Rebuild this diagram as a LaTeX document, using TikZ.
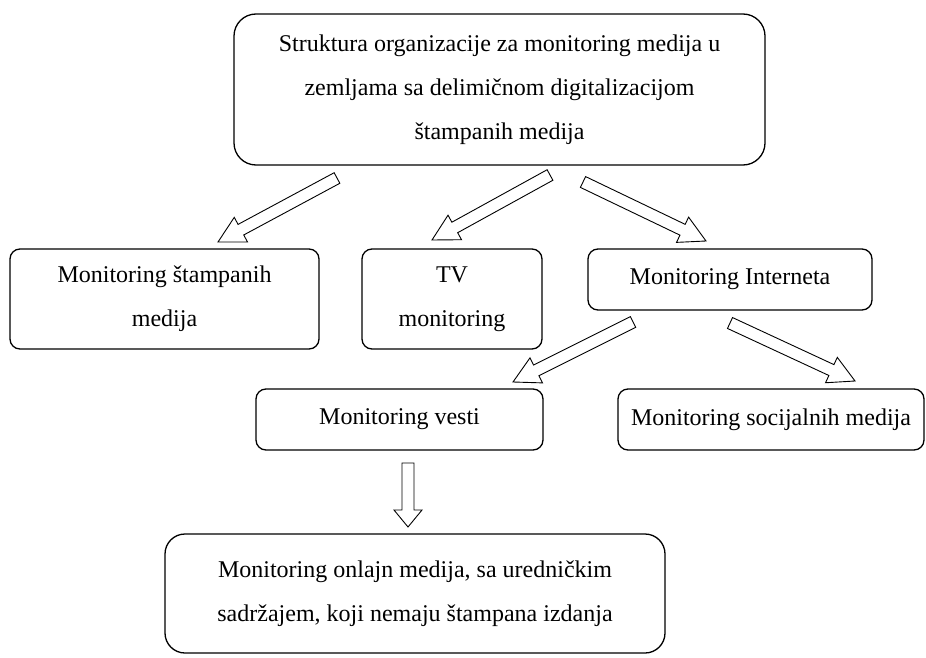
\documentclass[tikz,border=0pt]{standalone}
\usepackage{fontspec}
\setmainfont{Liberation Serif}
\usetikzlibrary{calc}

% hollow block arrow from #1 (tail) to #2 (tip), head length #3
\newcommand{\blockarrow}[3]{%
  \coordinate (h) at ($(#2)!#3!(#1)$);
  \draw[arrowline] ($(#1)!6pt!90:(#2)$) -- ($(h)!6pt!90:(#2)$) -- ($(h)!14pt!90:(#2)$) -- (#2)
    -- ($(h)!14pt!-90:(#2)$) -- ($(h)!6pt!-90:(#2)$) -- ($(#1)!6pt!-90:(#2)$) -- cycle;}

\begin{document}
\begin{tikzpicture}[x=1pt, y=-1pt,
    font={\fontsize{24}{44}\selectfont},
    box/.style={draw, line width=1.3pt, rounded corners=10pt, align=center, inner sep=0pt},
    arrowline/.style={draw, line width=0.9pt, fill=white, line join=miter}]
  \useasboundingbox (0,0) rectangle (926,658);

  \node[box, rounded corners=22pt, minimum width=531pt, minimum height=151pt] (top) at (499.5,89.5)
    {Struktura organizacije za monitoring medija u\\ zemljama sa delimičnom digitalizacijom\\ štampanih medija};
  \node[box, minimum width=309pt, minimum height=100pt] (stamp) at (164.5,299) {Monitoring štampanih\\ medija};
  \node[box, minimum width=180pt, minimum height=100pt] (tv) at (452,299) {TV\\ monitoring};
  \node[box, minimum width=284pt, minimum height=61pt] (inet) at (730,279.5) {Monitoring Interneta};
  \node[box, minimum width=287pt, minimum height=61pt] (vesti) at (399.5,419.5) {Monitoring vesti};
  \node[box, minimum width=306pt, minimum height=61pt] (soc) at (771,419.5) {Monitoring socijalnih medija};
  \node[box, rounded corners=20pt, minimum width=500pt, minimum height=119pt] (onlajn) at (415,593.5)
    {Monitoring onlajn medija, sa uredničkim\\ sadržajem, koji nemaju štampana izdanja};

  % arrow ends
  \coordinate (a1) at (337,178); \coordinate (b1) at (218,242);
  \coordinate (a2) at (550,175); \coordinate (b2) at (432,240);
  \coordinate (a3) at (583,182); \coordinate (b3) at (706,241);
  \coordinate (a4) at (633,322); \coordinate (b4) at (513,382);
  \coordinate (a5) at (730,323); \coordinate (b5) at (855,381);
  \coordinate (a6) at (408,463); \coordinate (b6) at (408,527);

  \foreach \i in {1,...,5} \blockarrow{a\i}{b\i}{26pt};
  \blockarrow{a6}{b6}{17pt}
\end{tikzpicture}
\end{document}
